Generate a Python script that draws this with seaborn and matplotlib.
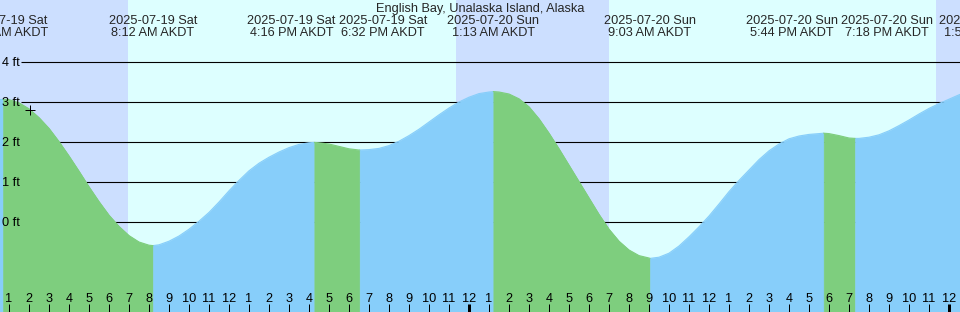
import numpy as np
import pandas as pd
import matplotlib
matplotlib.use("Agg")
import matplotlib.pyplot as plt
import seaborn as sns

# ---------------- data ----------------
title = "English Bay, Unalaska Island, Alaska"

# half-hourly tide heights (ft), hours counted from 2025-07-19 00:00 AKDT
curve_hours = np.arange(0, 49.5, 0.5).tolist()
curve_heights = [
    3.03, 3.07, 3.06, 2.98, 2.83, 2.61, 2.34, 2.01, 1.65, 1.27,
    0.88, 0.51, 0.17, -0.11, -0.34, -0.50, -0.58, -0.57, -0.48, -0.35,
    -0.18, 0.02, 0.24, 0.50, 0.78, 1.04, 1.28, 1.47, 1.62, 1.75,
    1.86, 1.94, 1.98, 1.98, 1.95, 1.89, 1.83, 1.80, 1.81, 1.84,
    1.91, 2.02, 2.16, 2.32, 2.50, 2.68, 2.85, 3.00, 3.12, 3.21,
    3.25, 3.25, 3.20, 3.08, 2.88, 2.58, 2.22, 1.83, 1.42, 1.01,
    0.60, 0.19, -0.18, -0.48, -0.70, -0.84, -0.90, -0.88, -0.78, -0.60,
    -0.37, -0.12, 0.15, 0.45, 0.76, 1.04, 1.30, 1.56, 1.78, 1.95,
    2.08, 2.15, 2.19, 2.21, 2.21, 2.16, 2.10, 2.09, 2.12, 2.18,
    2.28, 2.41, 2.55, 2.70, 2.84, 2.96, 3.07, 3.18, 3.27,
]

# high / low tide events
ext_hours = [0.70, 8.20, 16.267, 18.533, 25.217, 33.05, 41.733, 43.30, 49.83]
ext_heights = [3.07, -0.59, 1.99, 1.80, 3.26, -0.91, 2.22, 2.09, 3.30]
ext_kind = ["H", "L", "H", "L", "H", "L", "H", "L", "H"]
ext_dates = ["2025-07-19 Sat", "2025-07-19 Sat", "2025-07-19 Sat", "2025-07-19 Sat",
             "2025-07-20 Sun", "2025-07-20 Sun", "2025-07-20 Sun", "2025-07-20 Sun",
             "2025-07-21 Mon"]
ext_times = ["12:42 AM AKDT", "8:12 AM AKDT", "4:16 PM AKDT", "6:32 PM AKDT",
             "1:13 AM AKDT", "9:03 AM AKDT", "5:44 PM AKDT", "7:18 PM AKDT",
             "1:50 AM AKDT"]

# sunrise / sunset (hours), alternating starting with sunrise
sun_hours = [6.95, 23.35, 31.0, 47.35]

level_ticks = [0, 1, 2, 3, 4]
hour_ticks = list(range(1, 49))
now_hour = 2.05

# ---------------- style ----------------
sns.set_theme(style="white")
plt.rcParams["font.family"] = ["Liberation Sans", "DejaVu Sans"]
FS = 9.2
PX = 0.72  # one pixel in points at dpi 100

C_NIGHT = "#CCDFFF"
C_DAY = "#DDFFFF"
C_FALL = "#7ECE7E"
C_RISE = "#87CEFA"

X0, X1 = 0.55, 48.55
Y0, Y1 = -2.25, 5.55

fig = plt.figure(figsize=(9.6, 3.12), dpi=100)
ax = fig.add_axes([0, 0, 1, 1])

# day / night bands
edges = [X0 - 1] + sun_hours + [X1 + 1]
for i in range(len(edges) - 1):
    col = C_NIGHT if i % 2 == 0 else C_DAY
    ax.axvspan(edges[i], edges[i + 1], color=col, lw=0, zorder=0)

# level lines (behind the water)
line_start = X0 + 21 / 20
ax.hlines(level_ticks, line_start, X1 + 1, color="black", lw=1.1 * PX, zorder=1)

# build tide curve segments between extremes
pts = sorted(list(zip(curve_hours, curve_heights)) + list(zip(ext_hours, ext_heights)))
bounds = [-np.inf] + ext_hours + [np.inf]
rows = []
for k in range(len(bounds) - 1):
    if k == 0:
        phase = "rise" if ext_kind[0] == "H" else "fall"
    else:
        phase = "fall" if ext_kind[k - 1] == "H" else "rise"
    for t, v in pts:
        if bounds[k] <= t <= bounds[k + 1]:
            rows.append({"hour": t, "ft": v, "phase": phase, "seg": k})
df = pd.DataFrame(rows)

pal = {"fall": C_FALL, "rise": C_RISE}
for k, seg in df.groupby("seg"):
    c = pal[seg["phase"].iloc[0]]
    ax.fill_between(seg["hour"], seg["ft"], Y0, color=c, edgecolor=c, lw=0.4, zorder=2)

sns.lineplot(data=df, x="hour", y="ft", hue="phase", units="seg", estimator=None,
             palette=pal, lw=0.8, legend=False, ax=ax, zorder=2.5, sort=True)

# level labels
for lv in level_ticks:
    ax.text(X0 + 2.5 / 20, lv - 0.1, f"{lv} ft", ha="left", va="baseline",
            fontsize=FS, color="black", zorder=4)

# hour ticks along bottom
for h in hour_ticks:
    lw = 3 * PX if h % 24 == 0 else 1 * PX
    ax.vlines(h, Y0, -2.05, color="black", lw=lw, zorder=4)
    lbl = (h - 1) % 12 + 1
    ax.text(h, -2.0, str(lbl), ha="center", va="baseline", fontsize=FS,
            color="black", zorder=4)

# now marker
now_ft = np.interp(now_hour, [p[0] for p in pts], [p[1] for p in pts])
ax.plot([now_hour], [now_ft], marker="+", color="black", ms=7, mew=1 * PX, zorder=5)

# title
ax.text((X0 + X1) / 2, 5.2575, title, ha="center", va="baseline", fontsize=FS, zorder=5)

ax.set_xlim(X0, X1)
ax.set_ylim(Y0, Y1)
ax.axis("off")

# event labels with simple overlap resolution
fig.canvas.draw()
r = fig.canvas.get_renderer()
t_date, t_time, widths = [], [], []
for h, d, tm in zip(ext_hours, ext_dates, ext_times):
    a = ax.text(h, 4.95, d, ha="center", va="baseline", fontsize=FS, zorder=5)
    b = ax.text(h, 4.65, tm, ha="center", va="baseline", fontsize=FS, zorder=5)
    t_date.append(a); t_time.append(b)
    widths.append(max(a.get_window_extent(r).width, b.get_window_extent(r).width))
centers = [ax.transData.transform((h, 0))[0] for h in ext_hours]
gap = 3
for _ in range(20):
    for i in range(len(centers) - 1):
        ov = (centers[i] + widths[i] / 2 + gap) - (centers[i + 1] - widths[i + 1] / 2)
        if ov > 0:
            centers[i] -= ov / 2
            centers[i + 1] += ov / 2
inv = ax.transData.inverted()
for a, b, cx in zip(t_date, t_time, centers):
    xd = inv.transform((cx, 0))[0]
    a.set_x(xd); b.set_x(xd)

fig.savefig("out.png", dpi=100)
